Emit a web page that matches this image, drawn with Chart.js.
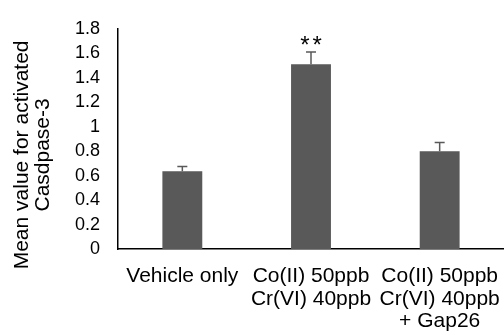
<!DOCTYPE html>
<html>
<head>
<meta charset="utf-8">
<script src="https://cdn.jsdelivr.net/npm/chart.js@4.4.0/dist/chart.umd.min.js"></script>
<style>
  html, body { margin: 0; padding: 0; background: #fff; }
  #wrap { width: 504px; height: 331px; position: relative; }
</style>
</head>
<body>
<div id="wrap"><canvas id="chart"></canvas></div>
<script>
const categories = [
  ['Vehicle only'],
  ['Co(II) 50ppb', 'Cr(VI) 40ppb'],
  ['Co(II) 50ppb', 'Cr(VI) 40ppb', '+ Gap26']
];
const means = [0.635, 1.51, 0.80];
const errors = [0.04, 0.10, 0.07];
const marks = ['', '**', ''];
const yTicks = [0, 0.2, 0.4, 0.6, 0.8, 1, 1.2, 1.4, 1.6, 1.8];
const yTitle = ['Mean value for activated', 'Casdpase-3'];

const barColor = '#595959';
const font = "'Liberation Sans', Arial, sans-serif";

// error bars (upper only) and significance stars
const errorBars = {
  id: 'errorBars',
  afterDatasetsDraw(chart) {
    const { ctx, scales: { y } } = chart;
    const meta = chart.getDatasetMeta(0);
    ctx.save();
    meta.data.forEach((bar, i) => {
      const x = bar.x;
      const yTop = y.getPixelForValue(means[i] + errors[i]);
      const yBase = y.getPixelForValue(means[i]);
      ctx.strokeStyle = barColor;
      ctx.lineWidth = 1.5;
      ctx.beginPath();
      ctx.moveTo(x, yBase);
      ctx.lineTo(x, yTop);
      ctx.moveTo(x - 5, yTop);
      ctx.lineTo(x + 5, yTop);
      ctx.stroke();
      if (marks[i]) {
        ctx.fillStyle = '#000';
        ctx.font = '24px ' + font;
        ctx.letterSpacing = '3px';
        ctx.textAlign = 'center';
        ctx.textBaseline = 'bottom';
        ctx.fillText(marks[i], x + 1.5, yTop + 6);
      }
    });
    ctx.restore();
  }
};

// y title, sits a bit lower than the axis middle like the original
const yTitlePlugin = {
  id: 'yTitle',
  afterDraw(chart) {
    const { ctx, chartArea } = chart;
    const cy = (chartArea.top + chartArea.bottom) / 2 + 16;
    ctx.save();
    ctx.translate(0, cy);
    ctx.rotate(-Math.PI / 2);
    ctx.fillStyle = '#000';
    ctx.font = '21px ' + font;
    ctx.textAlign = 'center';
    ctx.textBaseline = 'alphabetic';
    yTitle.forEach((line, i) => ctx.fillText(line, 0, 28 + i * 21));
    ctx.restore();
  }
};

new Chart(document.getElementById('chart'), {
  type: 'bar',
  data: {
    labels: categories,
    datasets: [{
      data: means,
      backgroundColor: barColor,
      categoryPercentage: 1,
      barPercentage: 0.31
    }]
  },
  options: {
    responsive: true,
    maintainAspectRatio: false,
    animation: false,
    layout: { padding: { top: 25, right: 0, left: 0, bottom: 0 } },
    plugins: {
      legend: { display: false },
      tooltip: { enabled: false }
    },
    scales: {
      x: {
        grid: { display: false, drawTicks: false },
        border: { color: '#000', width: 1.5 },
        ticks: {
          color: '#000',
          font: { family: font, size: 21, lineHeight: 1.08 },
          padding: 16,
          maxRotation: 0,
          autoSkip: false
        },
        afterFit(scale) {
          scale.height = 82;
          scale.paddingLeft = 0;
          scale.paddingRight = 0;
        }
      },
      y: {
        min: 0,
        max: 1.8,
        afterBuildTicks(scale) { scale.ticks = yTicks.map(v => ({ value: v })); },
        grid: { display: false, drawTicks: false },
        border: { color: '#000', width: 1.5 },
        ticks: {
          color: '#000',
          font: { family: font, size: 18 },
          padding: 18,
          autoSkip: false,
          callback: v => String(v)
        },
        afterFit(scale) { scale.width = 118; }
      }
    }
  },
  plugins: [errorBars, yTitlePlugin]
});
</script>
</body>
</html>
